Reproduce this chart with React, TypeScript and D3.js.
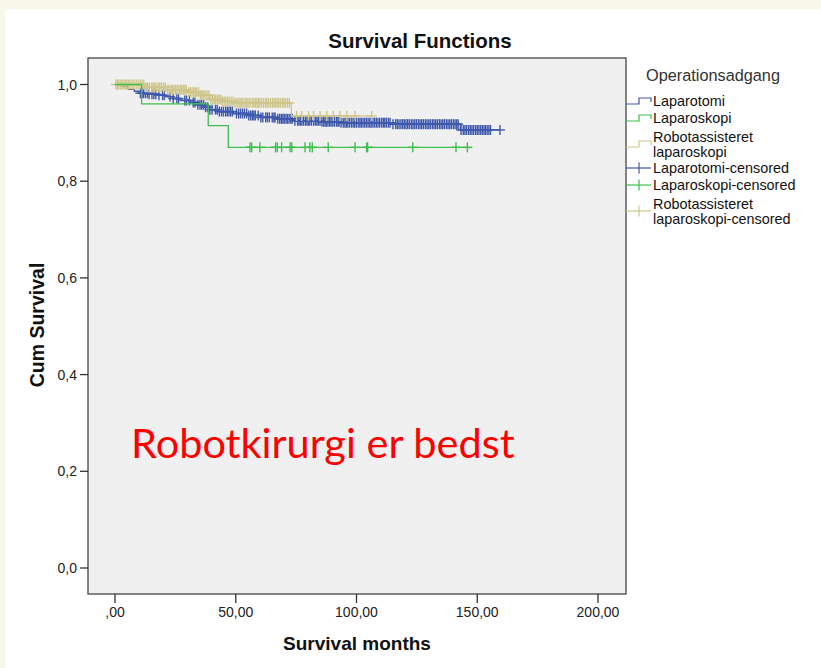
import * as d3 from "d3";

// Kaplan-Meier steps (months, cumulative survival)
const laparotomiTimes = [0, 3, 5.5, 8, 10, 14, 18, 21, 24, 27, 31, 34, 37, 39, 43, 49, 55, 60, 67, 74, 85, 93, 115, 143];
const laparotomiSurv = [1.0, 0.996, 0.99, 0.986, 0.982, 0.98, 0.978, 0.975, 0.971, 0.967, 0.963, 0.958, 0.953, 0.948, 0.944, 0.94, 0.936, 0.932, 0.929, 0.925, 0.923, 0.921, 0.918, 0.906];
const laparotomiEnd = 159.4;
const laparotomiCensored = [
  10.5, 11.2, 11.8, 12.6, 13.4, 14.1, 15.3, 16.1, 16.9, 18.2, 19.7, 20.4, 22.8, 24.1, 25.6, 26.3, 28.9, 29.6, 30.8,
  32.4, 33.1, 34.3, 35.2, 35.9, 36.7, 37.5, 38.4, 39.3, 40.2, 41.6, 42.3, 43.2, 44.1, 44.9, 45.8, 46.5, 47.2, 47.9,
  48.6, 50.3, 51.2, 52.0, 52.8, 53.6, 54.5, 55.4, 56.2, 56.9, 57.5, 58.1, 59.3, 60.4, 61.2, 62.4, 63.1, 63.9, 65.1,
  65.8, 66.3, 67.4, 68.2, 68.9, 69.5, 70.1, 70.8, 71.4, 72.1, 72.8, 73.4, 74.5, 75.6, 76.2, 76.8, 77.4, 78.1, 78.9,
  79.5, 80.1, 80.7, 81.4, 82.3, 83.0, 83.6, 84.2, 84.9, 85.7, 86.4, 87.0, 87.6, 88.2, 88.9, 89.5, 90.2, 90.9, 91.7,
  92.3, 92.8, 93.6, 94.5, 95.2, 95.8, 96.4, 97.1, 97.9, 98.6, 99.2, 99.9, 100.7, 101.4, 102.0, 102.7, 103.4, 104.1,
  104.8, 105.5, 106.1, 106.8, 107.5, 108.2, 108.9, 109.6, 110.4, 111.1, 111.7, 112.4, 113.2, 113.9, 115.1, 116.2,
  116.9, 117.6, 118.4, 119.1, 119.8, 120.5, 121.2, 121.9, 122.7, 123.4, 124.1, 124.8, 125.6, 126.3, 127.0, 127.7,
  128.5, 129.2, 129.9, 130.6, 131.4, 132.1, 132.8, 133.5, 134.3, 135.0, 135.7, 136.4, 137.2, 137.9, 138.6, 139.3,
  140.1, 140.8, 141.5, 142.1, 143.3, 144.2, 144.9, 145.6, 146.4, 147.1, 147.8, 148.5, 149.3, 150.0, 150.7, 151.4,
  152.1, 152.8, 153.4, 154.1, 154.8, 155.5, 159.4,
];

const laparoskopiTimes = [0, 11, 38.6, 46.9];
const laparoskopiSurv = [1.0, 0.96, 0.915, 0.87];
const laparoskopiEnd = 147;
const laparoskopiCensored = [55.9, 56.6, 60.0, 66.5, 67.2, 69.0, 72.5, 73.2, 78.7, 80.7, 81.7, 88.3, 99.4, 104.2, 104.6, 123.3, 141.2, 145.9];

const robotTimes = [0, 12, 21, 30, 35, 39, 44, 49, 73];
const robotSurv = [1.0, 0.994, 0.989, 0.984, 0.978, 0.969, 0.965, 0.962, 0.935];
const robotEnd = 106.3;
const robotCensored = [
  0.4, 1.0, 1.6, 2.3, 3.0, 3.7, 4.3, 4.9, 5.6, 6.2, 7.1, 7.9, 8.8, 9.6, 10.4, 11.2, 11.9, 12.7, 13.4, 14.2, 15.1,
  15.7, 16.3, 17.0, 17.8, 18.5, 19.2, 20.1, 20.8, 21.7, 22.4, 23.2, 23.8, 24.4, 25.1, 25.8, 26.5, 27.1, 27.7, 28.3,
  28.9, 29.5, 30.4, 31.2, 31.9, 32.6, 33.2, 33.8, 34.6, 35.4, 36.0, 36.6, 37.3, 38.1, 38.9, 39.7, 40.4, 41.1, 41.7,
  42.4, 43.1, 43.8, 44.5, 45.2, 45.9, 46.6, 47.3, 48.1, 48.9, 49.7, 50.5, 51.3, 51.8, 52.4, 53.1, 53.9, 54.5, 55.1,
  55.9, 56.8, 57.5, 58.2, 58.8, 59.4, 60.0, 60.7, 61.5, 62.3, 62.9, 63.6, 64.4, 65.2, 65.8, 66.4, 67.1, 67.8, 68.5,
  69.3, 69.9, 70.6, 71.4, 72.2, 75.2, 77.3, 80.1, 82.2, 84.9, 87.7, 90.4, 93.2, 96.0, 99.4, 106.3,
];

const xTicks = [0, 50, 100, 150, 200];
const xTickLabels = [",00", "50,00", "100,00", "150,00", "200,00"];
const yTicks = [0, 0.2, 0.4, 0.6, 0.8, 1.0];
const yTickLabels = ["0,0", "0,2", "0,4", "0,6", "0,8", "1,0"];

const legendLabels = [
  ["Laparotomi"],
  ["Laparoskopi"],
  ["Robotassisteret", "laparoskopi"],
  ["Laparotomi-censored"],
  ["Laparoskopi-censored"],
  ["Robotassisteret", "laparoskopi-censored"],
];

const BLUE = "#3e58ac";
const GREEN = "#3fbf4f";
const TAN = "#cfc68c";
const FONT = "'Liberation Sans', Arial, sans-serif";

const plot = { left: 88, right: 626, top: 58, bottom: 594 };

const x = d3.scaleLinear().domain([0, 200]).range([115, 598]);
const y = d3.scaleLinear().domain([0, 1]).range([568, 84.5]);

const survAt = (times: number[], surv: number[], t: number) => {
  const i = d3.bisectRight(times, t) - 1;
  return surv[Math.max(0, i)];
};

const stepLine = d3
  .line<[number, number]>()
  .x((d) => x(d[0]))
  .y((d) => y(d[1]))
  .curve(d3.curveStepAfter);

const makePath = (times: number[], surv: number[], end: number) => {
  const pts: [number, number][] = times.map((t, i) => [t, surv[i]]);
  pts.push([end, surv[surv.length - 1]]);
  return stepLine(pts) || "";
};

const Censors = ({ times, surv, marks, color }: any) => (
  <g stroke={color} strokeWidth={1.4}>
    {marks.map((t: number, i: number) => {
      const cx = x(t);
      const cy = y(survAt(times, surv, t));
      return (
        <g key={i}>
          <line x1={cx} x2={cx} y1={cy - 5} y2={cy + 5} />
          <line x1={cx - 5} x2={cx + 5} y1={cy} y2={cy} />
        </g>
      );
    })}
  </g>
);

export default function App() {
  const legendColors = [BLUE, GREEN, TAN, BLUE, GREEN, TAN];
  const legendRowY = [101, 118, 137, 168, 185, 204];
  return (
    <svg width={821} height={668} style={{ position: "absolute", left: 0, top: 0 }} fontFamily={FONT}>
      <rect x={0} y={0} width={821} height={668} fill="#f8f8ea" />
      <rect x={5} y={9} width={816} height={659} fill="#ffffff" />

      <text x={420} y={48} textAnchor="middle" fontSize={20.5} fontWeight="bold" fill="#111">
        Survival Functions
      </text>

      <rect
        x={plot.left}
        y={plot.top}
        width={plot.right - plot.left}
        height={plot.bottom - plot.top}
        fill="#f0f0f0"
        stroke="#444"
        strokeWidth={1.3}
      />

      {/* y axis */}
      {yTicks.map((t, i) => (
        <g key={t}>
          <line x1={80} x2={plot.left} y1={y(t)} y2={y(t)} stroke="#333" strokeWidth={1.3} />
          <text x={77} y={y(t) + 5} textAnchor="end" fontSize={14} fill="#222">
            {yTickLabels[i]}
          </text>
        </g>
      ))}

      {/* x axis */}
      {xTicks.map((t, i) => (
        <g key={t}>
          <line x1={x(t)} x2={x(t)} y1={plot.bottom} y2={603} stroke="#333" strokeWidth={1.3} />
          <text x={x(t)} y={617} textAnchor="middle" fontSize={14} fill="#222">
            {xTickLabels[i]}
          </text>
        </g>
      ))}

      <text x={357} y={650} textAnchor="middle" fontSize={19} fontWeight="bold" fill="#111">
        Survival months
      </text>
      <text
        transform="translate(44,325) rotate(-90)"
        textAnchor="middle"
        fontSize={19.5}
        fontWeight="bold"
        fill="#111"
      >
        Cum Survival
      </text>

      {/* curves */}
      <path d={makePath(laparotomiTimes, laparotomiSurv, laparotomiEnd)} fill="none" stroke={BLUE} strokeWidth={1.3} />
      <Censors times={laparotomiTimes} surv={laparotomiSurv} marks={laparotomiCensored} color={BLUE} />
      <path d={makePath(robotTimes, robotSurv, robotEnd)} fill="none" stroke={TAN} strokeWidth={1.3} />
      <Censors times={robotTimes} surv={robotSurv} marks={robotCensored} color={TAN} />
      <path d={makePath(laparoskopiTimes, laparoskopiSurv, laparoskopiEnd)} fill="none" stroke={GREEN} strokeWidth={1.3} />
      <Censors times={laparoskopiTimes} surv={laparoskopiSurv} marks={laparoskopiCensored} color={GREEN} />

      <text x={131} y={458} fontSize={41.5} fill="#ff0000" fontFamily="Lato, 'Open Sans', sans-serif">
        Robotkirurgi er bedst
      </text>

      {/* legend */}
      <text x={646} y={81} fontSize={16.3} fill="#333">
        Operationsadgang
      </text>
      {legendLabels.map((lines, i) => {
        const ry = legendRowY[i];
        const c = legendColors[i];
        const midY = ry + (lines.length - 1) * 7;
        return (
          <g key={i}>
            {i < 3 ? (
              <path
                d={`M626,${midY + 3}H639V${midY - 3}H651V${midY + 1}`}
                fill="none"
                stroke={c}
                strokeWidth={1.2}
              />
            ) : (
              <g stroke={c} strokeWidth={1.2}>
                <line x1={626} x2={651} y1={midY} y2={midY} />
                <line x1={639} x2={639} y1={midY - 5.5} y2={midY + 5.5} />
              </g>
            )}
            {lines.map((l, j) => (
              <text key={j} x={653} y={ry + 5 + j * 15} fontSize={14.4} fill="#111">
                {l}
              </text>
            ))}
          </g>
        );
      })}
    </svg>
  );
}
